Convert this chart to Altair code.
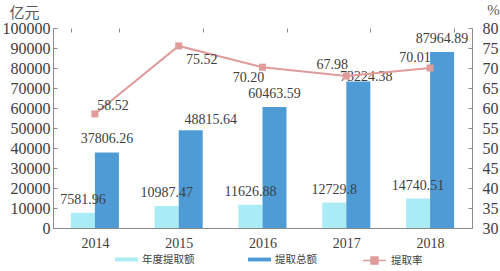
import altair as alt
import pandas as pd

years = ["2014", "2015", "2016", "2017", "2018"]
annual = [7581.96, 10987.47, 11626.88, 12729.8, 14740.51]
annual_labels = ["7581.96", "10987.47", "11626.88", "12729.8", "14740.51"]
total = [37806.26, 48815.64, 60463.59, 73224.38, 87964.89]
total_labels = ["37806.26", "48815.64", "60463.59", "73224.38", "87964.89"]
rate = [58.52, 75.52, 70.20, 67.98, 70.01]
rate_labels = ["58.52", "75.52", "70.20", "67.98", "70.01"]
series_names = ["年度提取额", "提取总额", "提取率"]
colors = ["#a9ecf6", "#4e9bd5", "#e09b9b"]
left_ticks = list(range(0, 100001, 10000))
right_ticks = list(range(30, 81, 5))

bars_df = pd.DataFrame({
    "year": years * 2,
    "series": [series_names[0]] * 5 + [series_names[1]] * 5,
    "value": annual + total,
    "label": annual_labels + total_labels,
})
rate_df = pd.DataFrame({"year": years, "rate": rate, "label": rate_labels,
                        "series": [series_names[2]] * 5})

GRAY = "#8a8a8a"
TXT = "#404040"
NUMFONT = "Liberation Serif"
CJK = "Noto Sans CJK SC"

x_axis = alt.Axis(title=None, labelAngle=0, ticks=False, tickBand="extent",
                  grid=True, gridDash=[4, 2000], gridColor=GRAY, domainColor=GRAY,
                  labelFont=NUMFONT, labelFontSize=14, labelColor=TXT, labelPadding=8,
                  labelOverlap=False)
x_scale = alt.Scale(paddingInner=0.427, paddingOuter=0.2135)
xo_scale = alt.Scale(domain=series_names[:2], paddingInner=0, paddingOuter=0)
X = alt.X("year:N", sort=years, scale=x_scale, axis=x_axis)
XO = alt.XOffset("series:N", sort=series_names[:2], scale=xo_scale)

left_axis = alt.Axis(values=left_ticks, format="d", title="亿元", titleAngle=0,
                     titleX=-29, titleY=-16, titleAlign="center",
                     titleBaseline="middle", titleFont=CJK, titleFontSize=15,
                     titleFontWeight="normal", titleColor="#595959",
                     labelFont=NUMFONT, labelFontSize=16, labelColor=TXT,
                     labelPadding=3, labelOverlap=False, ticks=False, grid=True,
                     gridDash=[4, 2000], gridColor=GRAY, domainColor=GRAY)
Y_LEFT = alt.Y("value:Q", scale=alt.Scale(domain=[0, 100000], nice=False), axis=left_axis)

right_axis = alt.Axis(orient="right", values=right_ticks, title="%", titleAngle=0,
                      titleX=21, titleY=-19, titleAlign="center",
                      titleBaseline="middle", titleFont=NUMFONT, titleFontSize=15,
                      titleFontWeight="normal", titleColor="#595959",
                      labelFont=NUMFONT, labelFontSize=16, labelColor=TXT,
                      labelPadding=10, labelOverlap=False, ticks=False, grid=True,
                      gridDash=[4, 2000], gridColor=GRAY, domainColor=GRAY)
Y_RIGHT = alt.Y("rate:Q", scale=alt.Scale(domain=[30, 80], nice=False), axis=right_axis)

bars = alt.Chart(bars_df).mark_bar().encode(
    x=X, xOffset=XO, y=Y_LEFT,
    color=alt.Color("series:N", scale=alt.Scale(domain=series_names[:2], range=colors[:2]),
                    legend=alt.Legend(title=None, orient="none", legendX=62, legendY=220,
                                      direction="horizontal",
                                      symbolType="M-1,-0.17H1V0.17H-1Z", symbolSize=529,
                                      symbolStrokeWidth=0, labelFont=CJK, labelFontSize=10.5,
                                      labelColor=TXT, labelOffset=4, columnPadding=53,
                                      padding=0)),
)


def bar_text(expr, dx, dy):
    return alt.Chart(bars_df).transform_filter(expr).mark_text(
        dx=dx, dy=dy, font=NUMFONT, fontSize=14, color=TXT, align="center",
        baseline="middle").encode(x=X, xOffset=XO, y=Y_LEFT, text="label:N")


bar_texts = [
    bar_text("!(datum.series == '提取总额' && (datum.year == '2015' || datum.year == '2017'))", 0, -13),
    bar_text("datum.series == '提取总额' && datum.year == '2015'", 20, -10),
    bar_text("datum.series == '提取总额' && datum.year == '2017'", 8, -4.5),
]

line = alt.Chart(rate_df).mark_line(strokeWidth=2).encode(
    x=X, y=Y_RIGHT,
    stroke=alt.Stroke("series:N", scale=alt.Scale(domain=[series_names[2]], range=[colors[2]]),
                      legend=alt.Legend(title=None, orient="none", legendX=309, legendY=220,
                                        direction="horizontal",
                                        symbolType="M-1,0H1M-0.3,-0.3H0.3V0.3H-0.3Z",
                                        symbolSize=529, symbolStrokeWidth=1.5,
                                        symbolFillColor=colors[2], labelFont=CJK,
                                        labelFontSize=10.5, labelColor=TXT, labelOffset=4,
                                        padding=0)),
)
squares = alt.Chart(rate_df).mark_square(size=49, color=colors[2], opacity=1).encode(
    x=X, y=Y_RIGHT)

rate_offsets = {"2014": (18, -8), "2015": (23, 14), "2016": (-14, 11),
                "2017": (-14, -11), "2018": (-15, -10)}
line_texts = [
    alt.Chart(rate_df).transform_filter(f"datum.year == '{yr}'").mark_text(
        dx=d[0], dy=d[1], font=NUMFONT, fontSize=14, color=TXT, align="center",
        baseline="middle").encode(x=X, y=Y_RIGHT, text="label:N")
    for yr, d in rate_offsets.items()
]

chart = alt.layer(
    alt.layer(bars, *bar_texts),
    alt.layer(line, squares, *line_texts),
).resolve_scale(y="independent").properties(
    width=419, height=200, autosize="none",
    padding={"left": 53, "top": 28, "right": 28, "bottom": 43},
).configure_view(stroke=None)

chart.save("out.html", embed_options={"renderer": "svg", "actions": False})
